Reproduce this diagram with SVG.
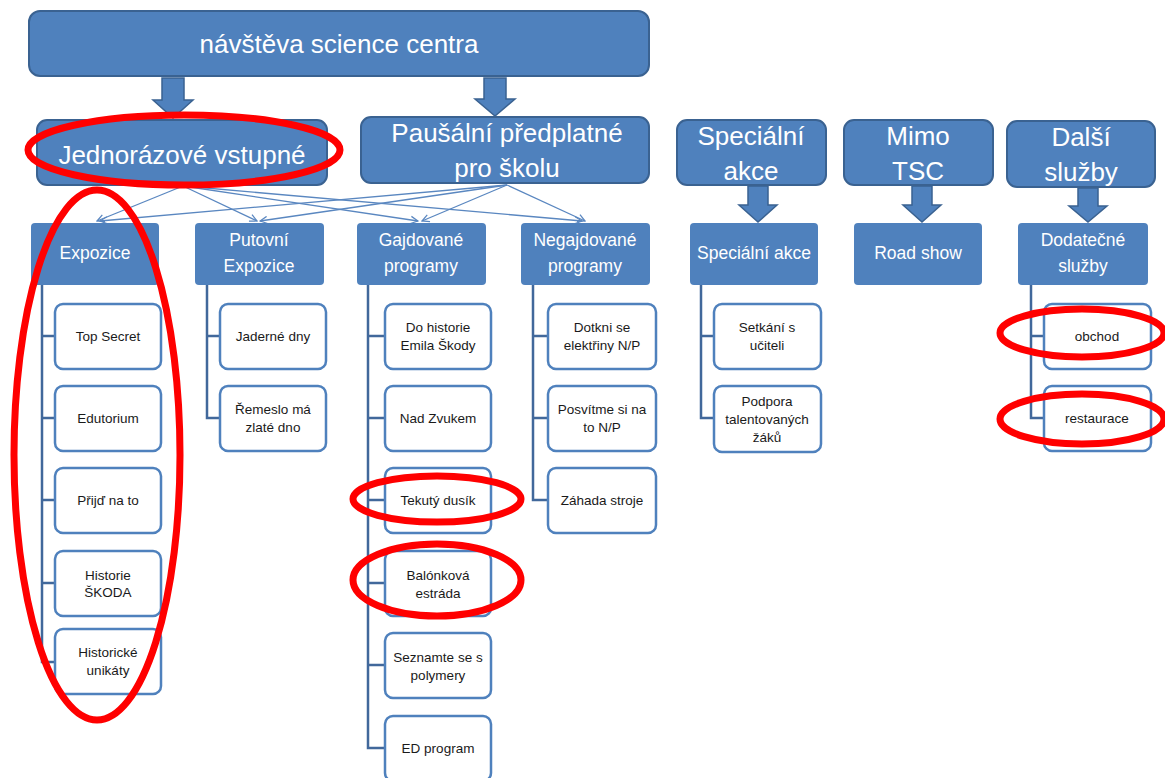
<svg xmlns="http://www.w3.org/2000/svg" width="1165" height="778" viewBox="0 0 1165 778">
  <defs>
    <style>
      .top { fill: #4F81BD; stroke: #3A6291; stroke-width: 2; }
      .lvl { fill: #4F81BD; }
      .leaf { fill: #FFFFFF; stroke: #4F81BD; stroke-width: 2.5; }
      .blk { fill: #4F81BD; stroke: #3A6291; stroke-width: 1.5; }
      .tree { fill: none; stroke: #41689B; stroke-width: 2.5; }
      .thin { fill: none; stroke: #5A87C0; stroke-width: 1.3; marker-end: url(#vhead); }
      .mark { fill: none; stroke: #FF0000; stroke-width: 7; }
      .t1 { font-family: "Liberation Sans", Arial, sans-serif; font-size: 26px; fill: #FFFFFF; text-anchor: middle; }
      .t2 { font-family: "Liberation Sans", Arial, sans-serif; font-size: 17.5px; fill: #FFFFFF; text-anchor: middle; }
      .t3 { font-family: "Liberation Sans", Arial, sans-serif; font-size: 13.5px; fill: #1A1A1A; text-anchor: middle; }
    </style>
    <marker id="vhead" viewBox="0 0 10 10" refX="9" refY="5" markerWidth="9" markerHeight="9" markerUnits="userSpaceOnUse" orient="auto">
      <path d="M1,1 L9,5 L1,9" fill="none" stroke="#5A87C0" stroke-width="1.4"/>
    </marker>
  </defs>

  <rect width="1165" height="778" fill="#FFFFFF"/>

  <!-- connectors: block arrows, fan-out lines, tree lines -->
  <g id="connectors">
    <path class="blk" d="M162,78 H184 V100 H193 L173,118 L153,100 H162 Z"/>
    <path class="blk" d="M484,78 H506 V99 H515 L495,116 L475,99 H484 Z"/>
    <path class="blk" d="M748,186 H768 V205 H777 L758,222 L739,205 H748 Z"/>
    <path class="blk" d="M912,186 H932 V205 H941 L922,222 L903,205 H912 Z"/>
    <path class="blk" d="M1078,188 H1098 V206 H1107 L1088,222 L1069,206 H1078 Z"/>

    <line class="thin" x1="183" y1="186" x2="97" y2="221"/>
    <line class="thin" x1="183" y1="186" x2="257" y2="221"/>
    <line class="thin" x1="183" y1="186" x2="418" y2="221"/>
    <line class="thin" x1="183" y1="186" x2="582" y2="221"/>
    <line class="thin" x1="507" y1="185" x2="100" y2="221"/>
    <line class="thin" x1="507" y1="185" x2="260" y2="221"/>
    <line class="thin" x1="507" y1="185" x2="422" y2="221"/>
    <line class="thin" x1="507" y1="185" x2="585" y2="221"/>

    <!-- Expozice tree -->
    <path class="tree" d="M42,285 V662 H55 M42,336 H55 M42,418 H55 M42,500 H55 M42,583 H55"/>
    <!-- Putovní Expozice tree -->
    <path class="tree" d="M207,285 V418 H220 M207,336 H220"/>
    <!-- Gajdované programy tree -->
    <path class="tree" d="M368,285 V748 H385 M368,336 H385 M368,418 H385 M368,500 H385 M368,583 H385 M368,665 H385"/>
    <!-- Negajdované programy tree -->
    <path class="tree" d="M533,285 V500 H548 M533,336 H548 M533,418 H548"/>
    <!-- Speciální akce tree -->
    <path class="tree" d="M701,285 V418 H714 M701,336 H714"/>
    <!-- Dodatečné služby tree -->
    <path class="tree" d="M1031,285 V418 H1044 M1031,336 H1044"/>
  </g>

  <!-- top level -->
  <g id="n-navsteva">
    <rect class="top" x="29" y="11" width="620" height="65" rx="11"/>
    <text class="t1" x="339" y="53">návštěva science centra</text>
  </g>
  <g id="n-jednorazove">
    <rect class="top" x="37" y="120" width="290" height="65" rx="10"/>
    <text class="t1" x="182" y="164" font-size="27">Jednorázové vstupné</text>
  </g>
  <g id="n-pausalni">
    <rect class="top" x="361" y="117" width="288" height="66" rx="10"/>
    <text class="t1" x="507" y="142">Paušální předplatné</text>
    <text class="t1" x="507" y="177">pro školu</text>
  </g>
  <g id="n-specialni">
    <rect class="top" x="677" y="120" width="149" height="65" rx="10"/>
    <text class="t1" x="751" y="145">Speciální</text>
    <text class="t1" x="751" y="180">akce</text>
  </g>
  <g id="n-mimo">
    <rect class="top" x="844" y="120" width="149" height="65" rx="10"/>
    <text class="t1" x="918" y="145">Mimo</text>
    <text class="t1" x="918" y="180">TSC</text>
  </g>
  <g id="n-dalsi">
    <rect class="top" x="1007" y="121" width="148" height="66" rx="10"/>
    <text class="t1" x="1081" y="146">Další</text>
    <text class="t1" x="1081" y="181">služby</text>
  </g>

  <!-- second level -->
  <g id="n-expozice">
    <rect class="lvl" x="31" y="223" width="128" height="62" rx="4"/>
    <text class="t2" x="95" y="259">Expozice</text>
  </g>
  <g id="n-putovni">
    <rect class="lvl" x="195" y="223" width="129" height="62" rx="4"/>
    <text class="t2" x="259" y="246">Putovní</text>
    <text class="t2" x="259" y="272">Expozice</text>
  </g>
  <g id="n-gajdovane">
    <rect class="lvl" x="357" y="223" width="129" height="62" rx="4"/>
    <text class="t2" x="421" y="246">Gajdované</text>
    <text class="t2" x="421" y="272">programy</text>
  </g>
  <g id="n-negajdovane">
    <rect class="lvl" x="521" y="223" width="129" height="62" rx="4"/>
    <text class="t2" x="585" y="246">Negajdované</text>
    <text class="t2" x="585" y="272">programy</text>
  </g>
  <g id="n-specialni-akce">
    <rect class="lvl" x="690" y="223" width="128" height="62" rx="4"/>
    <text class="t2" x="754" y="259">Speciální akce</text>
  </g>
  <g id="n-road-show">
    <rect class="lvl" x="854" y="223" width="128" height="62" rx="4"/>
    <text class="t2" x="918" y="259">Road show</text>
  </g>
  <g id="n-dodatecne">
    <rect class="lvl" x="1018" y="223" width="130" height="62" rx="4"/>
    <text class="t2" x="1083" y="246">Dodatečné</text>
    <text class="t2" x="1083" y="272">služby</text>
  </g>

  <!-- Expozice items -->
  <g id="n-top-secret">
    <rect class="leaf" x="55" y="304" width="106" height="65" rx="8"/>
    <text class="t3" x="108" y="341">Top Secret</text>
  </g>
  <g id="n-edutorium">
    <rect class="leaf" x="55" y="386" width="106" height="65" rx="8"/>
    <text class="t3" x="108" y="423">Edutorium</text>
  </g>
  <g id="n-prijd">
    <rect class="leaf" x="55" y="468" width="106" height="65" rx="8"/>
    <text class="t3" x="108" y="505">Přijď na to</text>
  </g>
  <g id="n-historie-skoda">
    <rect class="leaf" x="55" y="551" width="106" height="65" rx="8"/>
    <text class="t3" x="108" y="580">Historie</text>
    <text class="t3" x="108" y="597">ŠKODA</text>
  </g>
  <g id="n-historicke">
    <rect class="leaf" x="55" y="629" width="106" height="65" rx="8"/>
    <text class="t3" x="108" y="657">Historické</text>
    <text class="t3" x="108" y="675">unikáty</text>
  </g>

  <!-- Putovní Expozice items -->
  <g id="n-jaderne">
    <rect class="leaf" x="220" y="304" width="106" height="65" rx="8"/>
    <text class="t3" x="273" y="341">Jaderné dny</text>
  </g>
  <g id="n-remeslo">
    <rect class="leaf" x="220" y="386" width="106" height="65" rx="8"/>
    <text class="t3" x="273" y="414">Řemeslo má</text>
    <text class="t3" x="273" y="432">zlaté dno</text>
  </g>

  <!-- Gajdované programy items -->
  <g id="n-do-historie">
    <rect class="leaf" x="385" y="304" width="106" height="65" rx="8"/>
    <text class="t3" x="438" y="332">Do historie</text>
    <text class="t3" x="438" y="350">Emila Škody</text>
  </g>
  <g id="n-nad-zvukem">
    <rect class="leaf" x="385" y="386" width="106" height="65" rx="8"/>
    <text class="t3" x="438" y="423">Nad Zvukem</text>
  </g>
  <g id="n-tekuty">
    <rect class="leaf" x="385" y="468" width="106" height="65" rx="8"/>
    <text class="t3" x="438" y="505">Tekutý dusík</text>
  </g>
  <g id="n-balonkova">
    <rect class="leaf" x="385" y="551" width="106" height="65" rx="8"/>
    <text class="t3" x="438" y="580">Balónková</text>
    <text class="t3" x="438" y="598">estráda</text>
  </g>
  <g id="n-seznamte">
    <rect class="leaf" x="385" y="633" width="106" height="65" rx="8"/>
    <text class="t3" x="438" y="662">Seznamte se s</text>
    <text class="t3" x="438" y="680">polymery</text>
  </g>
  <g id="n-ed-program">
    <rect class="leaf" x="385" y="716" width="106" height="65" rx="8"/>
    <text class="t3" x="438" y="753">ED program</text>
  </g>

  <!-- Negajdované programy items -->
  <g id="n-dotkni">
    <rect class="leaf" x="548" y="304" width="108" height="65" rx="8"/>
    <text class="t3" x="602" y="332">Dotkni se</text>
    <text class="t3" x="602" y="350">elektřiny N/P</text>
  </g>
  <g id="n-posvitme">
    <rect class="leaf" x="548" y="386" width="108" height="65" rx="8"/>
    <text class="t3" x="602" y="414">Posvítme si na</text>
    <text class="t3" x="602" y="432">to N/P</text>
  </g>
  <g id="n-zahada">
    <rect class="leaf" x="548" y="468" width="108" height="65" rx="8"/>
    <text class="t3" x="602" y="505">Záhada stroje</text>
  </g>

  <!-- Speciální akce items -->
  <g id="n-setkani">
    <rect class="leaf" x="714" y="304" width="107" height="65" rx="8"/>
    <text class="t3" x="767" y="332">Setkání s</text>
    <text class="t3" x="767" y="350">učiteli</text>
  </g>
  <g id="n-podpora">
    <rect class="leaf" x="714" y="386" width="107" height="66" rx="8"/>
    <text class="t3" x="767" y="406">Podpora</text>
    <text class="t3" x="767" y="424">talentovaných</text>
    <text class="t3" x="767" y="442">žáků</text>
  </g>

  <!-- Dodatečné služby items -->
  <g id="n-obchod">
    <rect class="leaf" x="1044" y="304" width="107" height="65" rx="8"/>
    <text class="t3" x="1097" y="341">obchod</text>
  </g>
  <g id="n-restaurace">
    <rect class="leaf" x="1044" y="386" width="107" height="65" rx="8"/>
    <text class="t3" x="1097" y="423">restaurace</text>
  </g>

  <!-- red highlight rings -->
  <g id="highlights">
    <ellipse class="mark" cx="184" cy="150" rx="156" ry="35"/>
    <ellipse class="mark" cx="97" cy="455" rx="83" ry="265"/>
    <ellipse class="mark" cx="437" cy="499" rx="84" ry="23"/>
    <ellipse class="mark" cx="437" cy="580" rx="84" ry="36"/>
    <ellipse class="mark" cx="1082" cy="333" rx="82" ry="24"/>
    <ellipse class="mark" cx="1082" cy="419" rx="82" ry="25"/>
  </g>
</svg>
